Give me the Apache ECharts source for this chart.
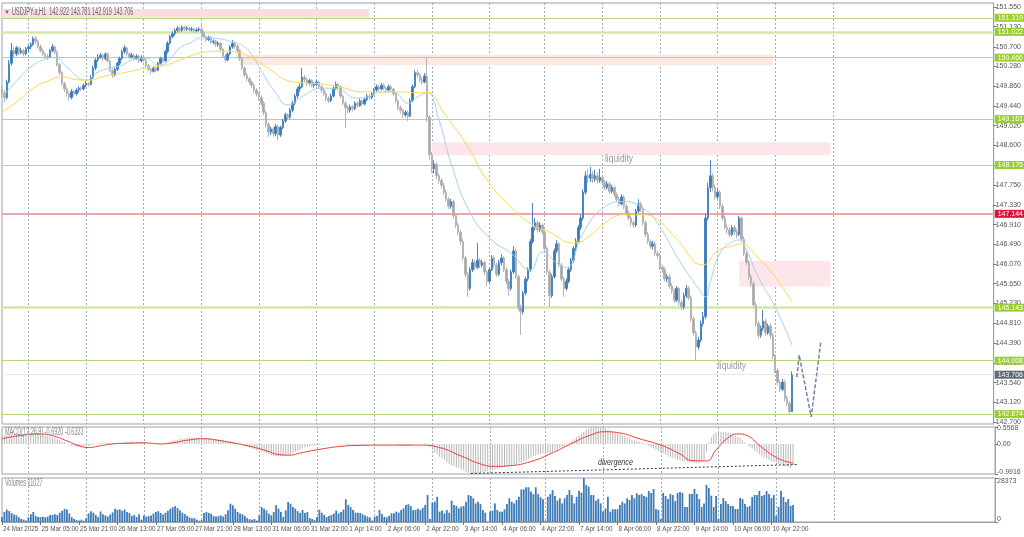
<!DOCTYPE html>
<html><head><meta charset="utf-8">
<script src="https://cdn.jsdelivr.net/npm/echarts/dist/echarts.min.js"></script>
<style>html,body{margin:0;padding:0;background:#fff}#c{width:1024px;height:537px}</style>
</head><body><div id="c"></div>
<script>
// ---------------- data ----------------
const timeTicks = ['24 Mar 2025','25 Mar 05:00','25 Mar 21:00','26 Mar 13:00','27 Mar 05:00','27 Mar 21:00','28 Mar 13:00','31 Mar 06:00','31 Mar 22:00','1 Apr 14:00','2 Apr 06:00','2 Apr 22:00','3 Apr 14:00','4 Apr 06:00','4 Apr 22:00','7 Apr 14:00','8 Apr 06:00','8 Apr 22:00','9 Apr 14:00','10 Apr 06:00','10 Apr 22:00'];
const priceTicks = [142.700,143.120,143.540,143.960,144.390,144.810,145.230,145.650,146.070,146.490,146.910,147.330,147.750,148.170,148.600,149.020,149.440,149.860,150.280,150.700,151.130,151.550];
const macdTicks = [0.5568, 0, -0.9916];
const volTicks = [0, 28373];
const dayStarts = [11,35,59,83,107,131,155,179,203,226,250,274,298,322,346];

// [open, close, low, high]
const candles = [
[149.80,149.72,149.62,149.88],[149.72,149.62,149.52,149.78],[149.62,149.95,149.58,150.00],[149.95,150.35,149.92,150.42],[150.35,150.62,150.30,150.78],
[150.62,150.55,150.48,150.70],[150.55,150.68,150.50,150.72],[150.68,150.58,150.52,150.71],[150.58,150.62,150.54,150.68],[150.62,150.55,150.50,150.66],
[150.55,150.66,150.52,150.70],[150.66,150.70,150.60,150.74],[150.70,150.75,150.65,150.80],[150.75,150.88,150.72,150.92],[150.88,150.82,150.76,150.93],
[150.82,150.70,150.66,150.85],[150.70,150.62,150.58,150.74],[150.62,150.55,150.50,150.66],[150.55,150.50,150.45,150.58],[150.50,150.48,150.42,150.55],
[150.48,150.62,150.46,150.66],[150.62,150.70,150.58,150.76],[150.70,150.58,150.54,150.73],[150.58,150.32,150.28,150.62],[150.32,150.15,150.10,150.36],
[150.15,149.92,149.88,150.18],[149.92,149.80,149.74,149.96],[149.80,149.70,149.64,149.84],[149.70,149.62,149.55,149.74],[149.62,149.75,149.58,149.80],
[149.75,149.70,149.65,149.79],[149.70,149.78,149.66,149.82],[149.78,149.82,149.72,149.86],[149.82,149.80,149.75,149.86],[149.80,149.88,149.77,149.92],
[149.88,149.92,149.84,149.97],[149.92,149.90,149.85,149.95],[149.90,150.05,149.88,150.10],[150.05,150.25,150.02,150.30],[150.25,150.42,150.20,150.46],
[150.42,150.48,150.38,150.55],[150.48,150.52,150.44,150.57],[150.52,150.45,150.40,150.56],[150.45,150.55,150.42,150.58],[150.55,150.40,150.36,150.58],
[150.40,150.20,150.16,150.43],[150.20,150.10,150.04,150.24],[150.10,150.22,150.07,150.26],[150.22,150.35,150.18,150.38],[150.35,150.45,150.30,150.49],
[150.45,150.60,150.42,150.64],[150.60,150.68,150.55,150.74],[150.68,150.55,150.50,150.70],[150.55,150.48,150.44,150.58],[150.48,150.52,150.45,150.57],
[150.52,150.45,150.40,150.55],[150.45,150.50,150.42,150.54],[150.50,150.40,150.36,150.53],[150.40,150.48,150.37,150.52],[150.48,150.42,150.38,150.51],
[150.42,150.30,150.26,150.45],[150.30,150.22,150.18,150.33],[150.22,150.18,150.12,150.26],[150.18,150.25,150.15,150.29],[150.25,150.20,150.16,150.28],
[150.20,150.35,150.18,150.38],[150.35,150.45,150.32,150.49],[150.45,150.40,150.36,150.48],[150.40,150.60,150.38,150.64],[150.60,150.78,150.56,150.82],
[150.78,150.92,150.75,150.96],[150.92,150.98,150.88,151.03],[150.98,151.05,150.94,151.09],[151.05,151.10,151.00,151.14],[151.10,151.05,151.01,151.13],
[151.05,151.12,151.02,151.16],[151.12,151.08,151.04,151.15],[151.08,151.10,151.04,151.14],[151.10,151.06,151.03,151.13],[151.06,151.08,151.03,151.12],
[151.08,151.04,151.00,151.11],[151.04,151.06,151.01,151.10],[151.06,151.08,151.03,151.12],[151.08,151.00,150.96,151.20],[151.00,150.92,150.88,151.04],
[150.92,150.85,150.80,150.95],[150.85,150.90,150.82,150.94],[150.90,150.80,150.76,150.93],[150.80,150.82,150.76,150.86],[150.82,150.75,150.70,150.85],
[150.75,150.78,150.70,150.82],[150.78,150.65,150.60,150.80],[150.65,150.50,150.46,150.68],[150.50,150.42,150.36,150.54],[150.42,150.55,150.40,150.58],
[150.55,150.70,150.52,150.74],[150.70,150.78,150.66,150.85],[150.78,150.72,150.66,150.82],[150.72,150.62,150.58,150.75],[150.62,150.45,150.40,150.65],
[150.45,150.25,150.20,150.48],[150.25,150.10,150.05,150.28],[150.10,150.02,149.96,150.14],[150.02,149.95,149.90,150.06],[149.95,149.88,149.82,149.98],
[149.88,149.78,149.72,149.92],[149.78,149.70,149.64,149.82],[149.70,149.62,149.56,149.74],[149.62,149.50,149.44,149.66],[149.50,149.30,149.24,149.54],
[149.30,149.05,148.98,149.34],[149.05,148.88,148.78,149.10],[148.88,148.95,148.82,149.00],[148.95,148.85,148.78,148.99],[148.85,149.00,148.80,149.06],
[149.00,148.82,148.71,149.04],[148.82,148.98,148.78,149.02],[148.98,149.12,148.94,149.16],[149.12,149.25,149.08,149.30],[149.25,149.20,149.14,149.29],
[149.20,149.35,149.16,149.40],[149.35,149.50,149.30,149.55],[149.50,149.65,149.46,149.70],[149.65,149.80,149.60,149.85],[149.80,149.85,149.74,149.92],
[149.85,150.05,149.82,150.25],[150.05,150.00,149.94,150.10],[150.00,149.92,149.86,150.04],[149.92,149.98,149.88,150.02],[149.98,149.88,149.84,150.01],
[149.88,149.90,149.83,149.95],[149.90,149.95,149.86,150.00],[149.95,149.85,149.80,149.98],[149.85,149.78,149.72,149.88],[149.78,149.70,149.65,149.82],
[149.70,149.60,149.54,149.74],[149.60,149.55,149.50,149.64],[149.55,149.65,149.52,149.70],[149.65,149.82,149.62,149.86],[149.82,149.90,149.78,149.96],
[149.90,149.85,149.80,149.94],[149.85,149.65,149.60,149.88],[149.65,149.50,149.45,149.68],[149.50,149.40,148.97,149.54],[149.40,149.35,149.28,149.45],
[149.35,149.42,149.30,149.47],[149.42,149.38,149.32,149.46],[149.38,149.50,149.35,149.54],[149.50,149.45,149.40,149.54],[149.45,149.55,149.42,149.60],
[149.55,149.48,149.43,149.58],[149.48,149.58,149.45,149.62],[149.58,149.65,149.54,149.70],[149.65,149.62,149.57,149.69],[149.62,149.70,149.58,149.74],
[149.70,149.78,149.66,149.82],[149.78,149.85,149.74,149.90],[149.85,149.80,149.75,149.89],[149.80,149.88,149.77,149.93],[149.88,149.82,149.78,149.92],
[149.82,149.78,149.73,149.86],[149.78,149.85,149.75,149.90],[149.85,149.80,149.75,149.89],[149.80,149.70,149.65,149.83],[149.70,149.55,149.50,149.73],
[149.55,149.40,149.35,149.58],[149.40,149.35,149.28,149.45],[149.35,149.25,149.18,149.38],[149.25,149.30,149.20,149.35],[149.30,149.22,149.12,149.34],
[149.22,149.55,149.20,149.60],[149.55,149.85,149.52,149.90],[149.85,150.15,149.82,150.20],[150.15,150.10,150.04,150.22],[150.10,150.00,149.94,150.14],
[150.00,149.95,149.90,150.05],[149.95,150.08,149.92,150.14],[150.08,149.20,149.10,150.48],[149.20,148.40,148.30,149.25],[148.40,148.10,148.02,148.46],
[148.10,148.20,148.00,148.28],[148.20,147.95,147.88,148.24],[147.95,147.85,147.78,148.00],[147.85,147.75,147.68,147.90],[147.75,147.60,147.54,147.80],
[147.60,147.45,147.40,147.66],[147.45,147.30,147.24,147.50],[147.30,147.40,147.25,147.46],[147.40,147.10,147.04,147.44],[147.10,146.90,146.84,147.14],
[146.90,146.75,146.68,146.95],[146.75,146.55,146.48,146.80],[146.55,146.20,146.14,146.60],[146.20,145.85,145.78,146.25],[145.85,145.55,145.37,145.90],
[145.55,145.95,145.50,146.00],[145.95,146.10,145.90,146.18],[146.10,146.00,145.94,146.16],[146.00,146.15,145.96,146.52],[146.15,146.05,145.98,146.20],
[146.05,146.10,146.00,146.16],[146.10,145.90,145.84,146.14],[145.90,145.70,145.60,145.94],[145.70,145.95,145.66,146.00],[145.95,146.20,145.92,146.26],
[146.20,146.05,146.00,146.25],[146.05,145.85,145.80,146.10],[145.85,146.10,145.82,146.16],[146.10,146.20,146.04,146.28],[146.20,145.95,145.90,146.24],
[145.95,145.70,145.64,146.00],[145.70,145.55,145.40,145.75],[145.55,145.90,145.50,145.95],[145.90,146.35,145.86,146.45],[146.35,145.80,145.75,146.40],
[145.80,145.15,145.08,145.85],[145.15,145.05,144.56,145.20],[145.05,145.45,145.00,145.50],[145.45,145.75,145.40,145.80],[145.75,145.95,145.70,146.00],
[145.95,146.55,145.90,146.60],[146.55,146.85,146.50,147.37],[146.85,146.95,146.78,147.05],[146.95,146.80,146.74,147.00],[146.80,146.90,146.75,146.96],
[146.90,146.75,146.70,146.94],[146.75,146.40,146.34,146.80],[146.40,145.90,145.84,146.45],[145.90,145.40,145.15,145.95],[145.40,145.80,145.35,145.86],
[145.80,146.35,145.76,146.40],[146.35,146.50,146.30,146.58],[146.50,146.05,146.00,146.54],[146.05,145.75,145.70,146.10],[145.75,145.55,145.37,145.80],
[145.55,145.70,145.50,145.76],[145.70,145.95,145.66,146.00],[145.95,146.15,145.90,146.20],[146.15,146.40,146.10,146.45],[146.40,146.55,146.35,146.62],
[146.55,146.85,146.50,146.90],[146.85,147.05,146.80,147.12],[147.05,147.60,147.00,147.66],[147.60,147.95,147.55,148.05],[147.95,147.90,147.80,148.10],
[147.90,147.98,147.82,148.14],[147.98,147.88,147.80,148.05],[147.88,147.95,147.82,148.08],[147.95,147.85,147.78,148.02],[147.85,147.92,147.80,148.10],
[147.92,147.80,147.74,147.98],[147.80,147.70,147.64,147.86],[147.70,147.78,147.66,147.84],[147.78,147.62,147.56,147.82],[147.62,147.70,147.58,147.76],
[147.70,147.55,147.50,147.74],[147.55,147.45,147.40,147.60],[147.45,147.35,147.30,147.50],[147.35,147.50,147.32,147.56],[147.50,147.30,147.24,147.54],
[147.30,147.15,147.10,147.35],[147.15,147.05,147.00,147.20],[147.05,146.95,146.88,147.10],[146.95,146.90,146.84,147.00],[146.90,147.20,146.86,147.25],
[147.20,147.35,147.16,147.45],[147.35,147.25,147.18,147.40],[147.25,146.95,146.90,147.30],[146.95,146.70,146.64,147.00],[146.70,146.55,146.50,146.75],
[146.55,146.45,146.40,146.60],[146.45,146.50,146.38,146.56],[146.50,146.30,146.24,146.55],[146.30,146.25,146.18,146.36],[146.25,146.00,145.94,146.30],
[146.00,145.95,145.88,146.06],[145.95,145.75,145.70,146.00],[145.75,145.80,145.68,145.86],[145.80,145.60,145.54,145.85],[145.60,145.50,145.44,145.66],
[145.50,145.30,145.24,145.55],[145.30,145.55,145.26,145.60],[145.55,145.25,145.18,145.58],[145.25,145.15,145.08,145.30],[145.15,145.40,145.10,145.46],
[145.40,145.55,145.35,145.62],[145.55,145.35,145.30,145.60],[145.35,144.90,144.84,145.40],[144.90,144.60,144.54,144.95],[144.60,144.30,144.02,144.65],
[144.30,144.45,144.24,144.52],[144.45,144.80,144.40,144.86],[144.80,144.95,144.74,145.05],[144.95,147.05,144.90,147.15],[147.05,147.70,147.00,147.80],
[147.70,147.95,147.60,148.29],[147.95,147.70,147.62,148.00],[147.70,147.50,147.44,147.76],[147.50,147.60,147.45,147.68],[147.60,147.30,147.24,147.65],
[147.30,147.05,147.00,147.36],[147.05,146.85,146.80,147.10],[146.85,146.80,146.72,146.92],[146.80,146.70,146.64,146.86],[146.70,146.85,146.66,146.90],
[146.85,146.75,146.68,146.90],[146.75,146.70,146.62,146.82],[146.70,147.05,146.66,147.10],[147.05,146.60,146.54,147.08],[146.60,146.30,146.24,146.66],
[146.30,146.10,146.04,146.36],[146.10,145.80,145.74,146.15],[145.80,145.65,145.58,145.86],[145.65,145.20,145.14,145.70],[145.20,144.80,144.74,145.25],
[144.80,144.55,144.48,144.85],[144.55,144.70,144.50,144.76],[144.70,144.85,144.64,145.09],[144.85,144.60,144.54,144.90],[144.60,144.75,144.56,144.80],
[144.75,144.55,144.48,144.80],[144.55,144.10,144.04,144.60],[144.10,143.80,143.74,144.15],[143.80,143.55,143.48,143.85],[143.55,143.40,143.34,143.60],
[143.40,143.55,143.36,143.62],[143.55,143.20,143.14,143.60],[143.20,143.10,143.04,143.26],[143.10,142.92,142.88,143.15],[142.922,143.706,142.919,143.781]
];

const volumes = [
3200,6500,8000,7100,5800,4900,4300,3000,2000,1500,
900,3000,5000,6500,4000,3200,3200,3400,3000,3500,
4500,4500,5000,4500,6000,7200,8500,8000,5500,3200,
2000,1200,1000,1500,800,2500,5500,7000,6000,4500,
3200,6800,5000,4200,3500,4800,6200,8500,7800,8200,
7200,8000,6500,5800,4000,4500,3200,5000,1500,4200,
3500,3800,4200,5500,6500,7000,5800,4800,6000,7200,
8500,9500,10200,9000,7500,6000,5200,4000,3000,2400,
2500,1500,800,1200,5800,6500,5800,5200,3800,3500,
3800,4200,3500,5000,7500,11800,10800,8600,6500,5500,
5000,4000,2500,1800,1500,2000,900,4300,9700,8600,
7500,5400,4300,6500,10800,8600,6500,3200,7500,12900,
11800,9700,8600,7000,5800,7800,5800,6500,2500,2000,
1200,3200,8000,6000,4500,3200,3800,4500,5500,7400,
5500,6500,8000,14600,11000,9700,7700,6000,6000,5800,
5000,4200,3500,3000,1000,3400,3900,7700,5200,3400,
3000,3900,5600,5600,6700,6000,7700,8800,11000,11400,
10300,7700,7700,8500,7700,9000,11000,17400,2000,12500,
13100,16300,6700,7400,5600,7700,6000,13800,11000,10300,
8800,9900,10300,13100,17400,16800,15300,12000,13100,11600,
7700,6000,200,6700,7300,12000,7700,6700,6700,8200,
11600,15300,13100,12000,14200,16300,21000,21000,22400,22400,
19600,18000,22400,18000,16000,14600,1000,16300,18000,20600,
16800,13800,15300,12000,15300,17400,20600,17400,12000,16300,
20200,18900,28373,23900,22800,17400,17400,13800,15000,12000,
6700,8800,16300,6700,8200,8200,8200,11000,13100,12000,
15300,14200,17400,15300,18500,17400,18000,16800,16100,20000,
18700,21300,8400,7700,1900,18700,16800,14800,18100,17400,
13500,18700,19400,18700,9700,9700,18100,18100,21300,18100,
14800,9700,12000,23900,21900,17000,9700,16800,1900,11600,
15500,13500,11600,10300,10300,8400,8400,15500,14800,11600,
9700,10300,16100,17400,17400,20000,16800,17400,20000,18100,
15500,17400,3900,9700,20000,16100,12900,14800,10300,11027
];

const macdMain = [
0.27,0.28,0.29,0.30,0.31,0.32,0.32,0.33,0.33,0.33,
0.33,0.34,0.34,0.34,0.35,0.34,0.32,0.30,0.29,0.27,
0.24,0.22,0.20,0.17,0.13,0.09,0.05,0.01,-0.03,-0.06,
-0.08,-0.09,-0.10,-0.10,-0.10,-0.09,-0.07,-0.05,-0.03,-0.01,
0.01,0.03,0.04,0.04,0.03,0.02,0.02,0.02,0.03,0.04,
0.06,0.07,0.07,0.08,0.08,0.07,0.07,0.07,0.06,0.05,
0.04,0.03,0.02,0.02,0.01,0.01,0.02,0.02,0.04,0.06,
0.08,0.10,0.12,0.14,0.16,0.18,0.19,0.20,0.21,0.21,
0.21,0.22,0.21,0.21,0.20,0.19,0.18,0.17,0.16,0.15,
0.14,0.12,0.11,0.10,0.09,0.08,0.07,0.05,0.03,0.00,
-0.03,-0.06,-0.09,-0.12,-0.14,-0.17,-0.20,-0.22,-0.25,-0.28,
-0.31,-0.34,-0.37,-0.39,-0.40,-0.41,-0.41,-0.40,-0.39,-0.37,
-0.34,-0.31,-0.27,-0.23,-0.19,-0.15,-0.12,-0.10,-0.08,-0.07,
-0.06,-0.05,-0.04,-0.03,-0.03,-0.02,-0.02,-0.01,0.00,0.00,
0.00,-0.01,-0.02,-0.04,-0.05,-0.05,-0.05,-0.05,-0.05,-0.04,
-0.04,-0.03,-0.03,-0.02,-0.02,-0.02,-0.02,-0.02,-0.01,-0.01,
-0.02,-0.02,-0.02,-0.03,-0.04,-0.05,-0.06,-0.07,-0.07,-0.06,
-0.05,-0.03,-0.01,0.00,0.00,0.00,0.01,-0.05,-0.12,-0.20,
-0.28,-0.35,-0.42,-0.48,-0.54,-0.60,-0.65,-0.70,-0.74,-0.78,
-0.80,-0.84,-0.88,-0.91,-0.94,-0.96,-0.98,-0.9916,-0.98,-0.96,
-0.94,-0.92,-0.90,-0.88,-0.86,-0.84,-0.82,-0.80,-0.78,-0.76,
-0.74,-0.72,-0.70,-0.68,-0.66,-0.64,-0.62,-0.58,-0.54,-0.50,
-0.45,-0.40,-0.37,-0.35,-0.33,-0.32,-0.32,-0.31,-0.30,-0.27,
-0.22,-0.18,-0.14,-0.10,-0.06,-0.02,0.04,0.10,0.16,0.22,
0.28,0.34,0.40,0.46,0.50,0.53,0.55,0.5568,0.55,0.54,
0.52,0.50,0.47,0.44,0.41,0.38,0.35,0.32,0.29,0.26,
0.22,0.18,0.14,0.11,0.09,0.07,0.04,0.01,-0.03,-0.07,
-0.11,-0.15,-0.19,-0.23,-0.27,-0.31,-0.35,-0.39,-0.43,-0.46,
-0.49,-0.52,-0.54,-0.56,-0.58,-0.59,-0.60,-0.61,-0.62,-0.63,
-0.62,-0.60,-0.55,-0.25,0.05,0.22,0.32,0.37,0.39,0.40,
0.40,0.39,0.37,0.35,0.31,0.27,0.23,0.19,0.12,0.05,
-0.02,-0.09,-0.16,-0.22,-0.28,-0.34,-0.39,-0.44,-0.48,-0.52,
-0.56,-0.60,-0.63,-0.66,-0.69,-0.71,-0.74,-0.76,-0.79,-0.692
];

const macdSignal = [[0,0.17],[7,0.27],[15,0.33],[21,0.27],[27,0.10],[32,-0.06],[36,-0.12],[41,-0.06],[46,0.0],[52,0.02],[59,0.035],[66,0.0],[71,0.035],[77,0.12],[84,0.17],[89,0.13],[96,0.035],[102,-0.06],[109,-0.20],[116,-0.36],[120,-0.37],[124,-0.30],[132,-0.18],[141,-0.08],[149,-0.05],[157,-0.04],[166,-0.04],[174,-0.04],[182,-0.12],[191,-0.40],[199,-0.66],[205,-0.74],[211,-0.72],[220,-0.58],[228,-0.33],[236,-0.02],[245,0.30],[251,0.40],[257,0.36],[265,0.17],[274,-0.04],[282,-0.33],[287,-0.55],[293,-0.56],[297,-0.20],[302,0.20],[306,0.33],[310,0.27],[315,-0.05],[321,-0.40],[325,-0.55],[329,-0.633]];

const maFast = [[0,149.62],[4,149.85],[8,150.08],[12,150.27],[17,150.42],[22,150.47],[27,150.27],[35,149.99],[40,150.16],[45,150.25],[50,150.31],[54,150.42],[60,150.46],[65,150.31],[68,150.35],[74,150.67],[79,150.80],[83,150.89],[89,150.88],[96,150.80],[101,150.70],[105,150.45],[110,150.02],[114,149.72],[119,149.46],[126,149.67],[133,149.82],[141,149.78],[147,149.61],[152,149.63],[158,149.74],[163,149.74],[169,149.50],[173,149.63],[177,149.72],[182,149.14],[187,148.22],[195,147.16],[204,146.58],[212,146.30],[220,145.94],[225,146.33],[231,146.09],[235,146.00],[242,146.73],[251,147.29],[259,147.40],[267,147.26],[273,146.94],[282,146.15],[290,145.55],[293,145.37],[295,145.70],[299,146.30],[304,146.54],[307,146.58],[310,146.37],[315,145.79],[322,145.15],[329,144.34]];

const maSlow = [[0,149.31],[6,149.52],[13,149.82],[20,149.99],[25,150.06],[31,150.00],[36,149.99],[43,150.08],[52,150.16],[60,150.25],[68,150.31],[77,150.48],[85,150.59],[92,150.61],[99,150.57],[105,150.44],[112,150.20],[119,149.98],[126,149.93],[133,149.91],[141,149.84],[150,149.74],[158,149.74],[166,149.74],[173,149.72],[177,149.73],[184,149.29],[194,148.57],[202,147.86],[212,147.29],[221,146.90],[228,146.75],[238,146.52],[243,146.60],[251,146.94],[259,147.12],[267,147.12],[273,147.01],[281,146.60],[292,146.05],[298,146.35],[304,146.45],[308,146.50],[313,146.30],[322,145.79],[329,145.26]];

const greenLevels = [151.319, 151.022, 150.466, 149.161, 148.176, 145.143, 144.008, 142.874];
const redLevels = [147.144];
const lastPrice = 143.706;
// [startBar, endBar, lowPrice, highPrice]
const zones = [[0,153,151.319,151.507],[99,321,150.313,150.526],[179,345,148.39,148.665],[307,345,145.59,146.14]];
const projection = [[331,143.66],[332,144.13],[337,142.81],[341,144.41]];
const divergence = [[195,-0.975],[331,-0.68]];
const headerText = 'USDJPY.a,H1  142.922 143.781 142.919 143.706';
const macdText = 'MACD(12,26,9) -0.6920 -0.6333';
const volText = 'Volumes 11027';

// ---------------- chart ----------------
const SLOTS = 414;
const categories = Array.from({length: SLOTS}, (_, i) => String(i));
const FONT = "'Liberation Sans', Arial, sans-serif";
const AXC = '#9aa2ae';
const LBL = '#555';
const gridLine = (idx) => dayStarts.indexOf(idx) >= 0;
const showTime = (i) => i % 16 === 0 && i <= 320;

function xAx(gi, showLabels) {
  return {
    type: 'category', gridIndex: gi, data: categories, boundaryGap: false,
    axisLine: {show: showLabels, lineStyle: {color: AXC}},
    axisTick: {show: showLabels, length: 3, interval: showTime, lineStyle: {color: '#777'}},
    axisLabel: {show: showLabels, interval: showTime, showMinLabel: true, showMaxLabel: true, align: 'left',
      fontSize: 6.3, color: LBL, fontFamily: FONT, margin: 4, padding: [0,0,0,1],
      formatter: (v, i) => (i % 16 === 0 && timeTicks[i / 16]) ? timeTicks[i / 16] : ''},
    splitLine: {show: true, interval: (i) => gridLine(i), lineStyle: {color: '#a4abb8', type: [2, 2], width: 1}}
  };
}
function yAx(gi, min, max, ticks, fmt, rich) {
  return {
    type: 'value', gridIndex: gi, position: 'right', min: min, max: max, scale: true,
    axisLine: {show: true, lineStyle: {color: AXC}},
    axisTick: {show: true, length: 3, customValues: ticks, lineStyle: {color: '#777'}},
    axisLabel: {show: true, customValues: ticks, formatter: fmt, fontSize: 7, color: LBL, fontFamily: FONT, margin: 2, rich: rich},
    splitLine: {show: false}
  };
}
const edgeRich = {
  top: {fontSize: 7, color: LBL, fontFamily: FONT, padding: [6, 0, 0, 0]},
  bot: {fontSize: 7, color: LBL, fontFamily: FONT, padding: [0, 0, 6, 0]}
};

const levelLines = greenLevels.map(v => ({
  yAxis: v, name: v.toFixed(3),
  lineStyle: {color: (v === 151.022 || v === 145.143) ? '#d3e8a8' : '#b2d67a', width: (v === 151.022 || v === 145.143) ? 2.5 : 1.2, type: 'solid'},
  label: {backgroundColor: '#9acd32', color: '#fff'}
})).concat(redLevels.map(v => ({
  yAxis: v, name: v.toFixed(3), lineStyle: {color: '#f2a3ab', width: 2, type: 'solid'},
  label: {backgroundColor: '#dc143c', color: '#fff'}
}))).concat([{
  yAxis: lastPrice, name: lastPrice.toFixed(3), lineStyle: {color: '#e6e8ef', width: 1, type: 'solid'},
  label: {backgroundColor: '#5f6977', color: '#fff'}
}]);

const zoneColors = ['#fbdce2', '#fde7df', '#fde6ea', '#fde6ea'];
const txt = (x, y, s, size, fill, sx, extra) => Object.assign({type: 'text', x: x, y: y, z: 100, scaleX: sx,
  style: Object.assign({text: s, fontSize: size, fill: fill, fontFamily: FONT, textVerticalAlign: 'middle'}, extra || {})});

const option = {
  animation: false,
  backgroundColor: '#ffffff',
  textStyle: {fontFamily: FONT},
  grid: [
    {left: 2, right: 29, top: 3, height: 421, show: true, borderColor: AXC, borderWidth: 1},
    {left: 2, right: 29, top: 427, height: 47, show: true, borderColor: AXC, borderWidth: 1},
    {left: 2, right: 29, top: 478, height: 44, show: true, borderColor: AXC, borderWidth: 1}
  ],
  xAxis: [xAx(0, false), xAx(1, false), xAx(2, true)],
  yAxis: [
    yAx(0, 142.659, 151.635, priceTicks, v => v.toFixed(3)),
    yAx(1, -0.9916, 0.5568, macdTicks, v => v === 0 ? '0.00' : (v > 0 ? '{top|' + v + '}' : '{bot|' + v + '}'), {top: {fontSize: 7, color: LBL, fontFamily: FONT, padding: [3,0,0,0]}, bot: {fontSize: 7, color: LBL, fontFamily: FONT, padding: [0,0,3,0]}}),
    yAx(2, 0, 28373, volTicks, v => v === 0 ? '{bot|0}' : '{top|' + v + '}', edgeRich)
  ],
  series: [
    {
      type: 'candlestick', xAxisIndex: 0, yAxisIndex: 0, data: candles, barWidth: 2, silent: true, z: 3,
      itemStyle: {color: '#3a76b4', color0: '#a9a9a9', borderColor: '#4a86c2', borderColor0: '#b4b4b4', borderWidth: 1},
      markArea: {
        silent: true, z: 1,
        data: zones.map((z, k) => [{xAxis: z[0], yAxis: z[3], itemStyle: {color: zoneColors[k]}}, {xAxis: z[1], yAxis: z[2]}])
      },
      markLine: {
        silent: true, symbol: 'none', z: 2,
        label: {show: true, position: 'end', distance: 1, formatter: p => p.name, fontSize: 7, fontFamily: FONT, padding: [1, 3, 0, 3]},
        data: levelLines
      }
    },
    {type: 'line', xAxisIndex: 0, yAxisIndex: 0, data: maFast, smooth: 0.5, symbol: 'none', silent: true, z: 4,
      lineStyle: {color: '#9fd3f2', width: 1}},
    {type: 'line', xAxisIndex: 0, yAxisIndex: 0, data: maSlow, smooth: 0.5, symbol: 'none', silent: true, z: 4,
      lineStyle: {color: '#ffd84d', width: 1}},
    {type: 'line', xAxisIndex: 0, yAxisIndex: 0, data: projection, symbol: 'none', silent: true, z: 5,
      lineStyle: {color: '#7282a0', width: 1.5, type: [4, 2]}},
    {type: 'bar', xAxisIndex: 1, yAxisIndex: 1, data: macdMain, barWidth: 1, silent: true,
      itemStyle: {color: '#b8b8b8'}},
    {type: 'line', xAxisIndex: 1, yAxisIndex: 1, data: macdSignal, smooth: 0.5, symbol: 'none', silent: true, z: 4,
      lineStyle: {color: '#ef3b3b', width: 1}},
    {type: 'line', xAxisIndex: 1, yAxisIndex: 1, data: divergence, symbol: 'none', silent: true, z: 5,
      lineStyle: {color: '#333', width: 1, type: [2, 2]}},
    {type: 'bar', xAxisIndex: 2, yAxisIndex: 2, data: volumes, barWidth: 1.8, silent: true,
      itemStyle: {color: '#3f7bb7'}}
  ],
  graphic: [
    txt(4, 12, '\u25BC', 6, '#666', 1),
    txt(12, 12, headerText, 10, '#666', 0.55),
    txt(5, 432, macdText, 10, '#888', 0.55),
    txt(5, 483, volText, 10, '#888', 0.55),
    txt(605, 159, 'liquidity', 10.5, '#999', 0.8),
    txt(718, 366, 'liquidity', 10.5, '#999', 0.8),
    txt(598, 462, 'divergence', 9.5, '#333', 0.75, {fontStyle: 'italic'})
  ]
};
const chart = echarts.init(document.getElementById('c'), null, {renderer: 'canvas'});
chart.setOption(option);
</script>
</body></html>
